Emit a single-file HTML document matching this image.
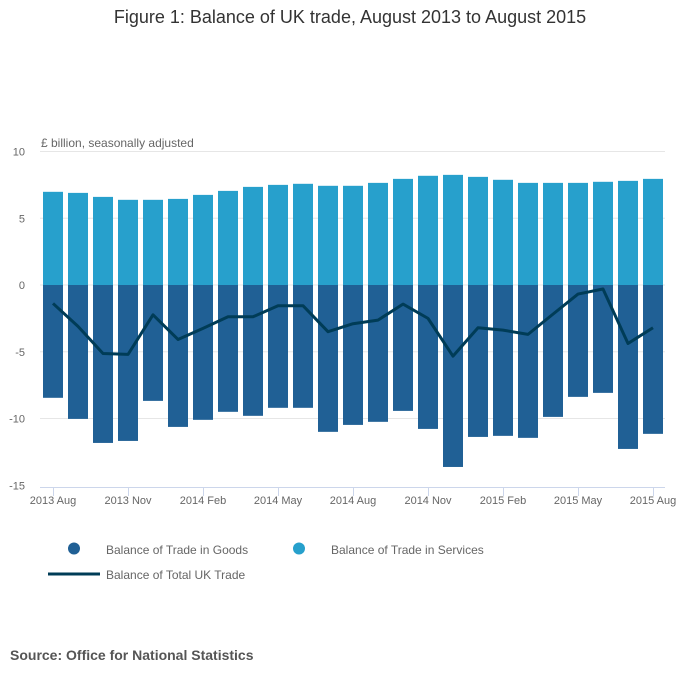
<!DOCTYPE html>
<html><head><meta charset="utf-8"><style>
body{margin:0;background:#fff;font-family:"Liberation Sans",sans-serif;}
svg text{font-family:"Liberation Sans",sans-serif;}
</style></head><body>
<svg id="chart" width="700" height="682" xmlns="http://www.w3.org/2000/svg">
<text x="350" y="23" text-anchor="middle" font-size="18" fill="#333">Figure 1: Balance of UK trade, August 2013 to August 2015</text>
<text x="41" y="147" font-size="12" fill="#666">£ billion, seasonally adjusted</text>
<g id="grid"></g><g id="bars"></g><g id="axis"></g><g id="line"></g>
<g>
<circle cx="74" cy="548.5" r="6" fill="#206095"/>
<text x="106" y="554" font-size="12" fill="#666">Balance of Trade in Goods</text>
<circle cx="299" cy="548.5" r="6" fill="#27a0cc"/>
<text x="331" y="554" font-size="12" fill="#666">Balance of Trade in Services</text>
<line x1="48" x2="100" y1="574" y2="574" stroke="#003c57" stroke-width="3"/>
<text x="106" y="579" font-size="12" fill="#666">Balance of Total UK Trade</text>
</g>
<text x="10" y="660" font-size="14" font-weight="bold" fill="#555">Source: Office for National Statistics</text>
</svg>
<script>
const months=["2013 Aug","2013 Sep","2013 Oct","2013 Nov","2013 Dec","2014 Jan","2014 Feb","2014 Mar","2014 Apr","2014 May","2014 Jun","2014 Jul","2014 Aug","2014 Sep","2014 Oct","2014 Nov","2014 Dec","2015 Jan","2015 Feb","2015 Mar","2015 Apr","2015 May","2015 Jun","2015 Jul","2015 Aug"];
const services=[6.98,6.9,6.6,6.38,6.38,6.45,6.75,7.05,7.35,7.5,7.58,7.43,7.43,7.65,7.95,8.18,8.25,8.1,7.88,7.65,7.65,7.65,7.73,7.8,7.95];
const goods=[-8.45,-10.03,-11.83,-11.68,-8.68,-10.63,-10.1,-9.5,-9.8,-9.2,-9.2,-11.0,-10.48,-10.25,-9.43,-10.78,-13.63,-11.38,-11.3,-11.45,-9.88,-8.38,-8.08,-12.28,-11.15];
const total=[-1.38,-3.1,-5.13,-5.2,-2.23,-4.08,-3.25,-2.38,-2.38,-1.55,-1.55,-3.5,-2.9,-2.63,-1.43,-2.5,-5.33,-3.2,-3.38,-3.7,-2.18,-0.68,-0.3,-4.38,-3.2];
const yTicks=[10,5,0,-5,-10,-15];
const xTickIdx=[0,3,6,9,12,15,18,21,24];
const NS="http://www.w3.org/2000/svg";
const y=v=>285-v*13.35;
const x=i=>53+i*25;
function mk(t,a,p){const e=document.createElementNS(NS,t);for(const k in a)e.setAttribute(k,a[k]);document.getElementById(p).appendChild(e);return e;}
yTicks.forEach(v=>{
  if(v!==-15){const g=mk('line',{x1:40,x2:665,y1:y(v),y2:y(v),stroke:'#e6e6e6','stroke-width':1},'grid');
  
  }
  const t=mk('text',{x:25,y:y(v)+4,'text-anchor':'end','font-size':11,fill:'#666'},'grid');
  t.textContent=v;
  
  
});
months.forEach((m,i)=>{
  const s=mk('rect',{x:x(i)-10,y:y(services[i]),width:20,height:y(0)-y(services[i]),fill:'#27a0cc'},'bars');
  
  
  const g=mk('rect',{x:x(i)-10,y:y(0),width:20,height:y(goods[i])-y(0),fill:'#206095'},'bars');
  
  
});
const ax=mk('line',{x1:40,x2:665,y1:487.5,y2:487.5,stroke:'#ccd6eb','stroke-width':1},'axis');


xTickIdx.forEach(i=>{
  const tk=mk('line',{x1:x(i)+0.5,x2:x(i)+0.5,y1:487,y2:496,stroke:'#ccd6eb'},'axis');
  
  
  const t=mk('text',{x:x(i),y:504,'text-anchor':'middle','font-size':11,fill:'#666'},'axis');
  t.textContent=months[i];
  
  
});
const pl=mk('polyline',{points:total.map((v,i)=>x(i)+','+y(v)).join(' '),fill:'none',stroke:'#003c57','stroke-width':3,'stroke-linejoin':'round'},'line');


</script>
</body></html>
